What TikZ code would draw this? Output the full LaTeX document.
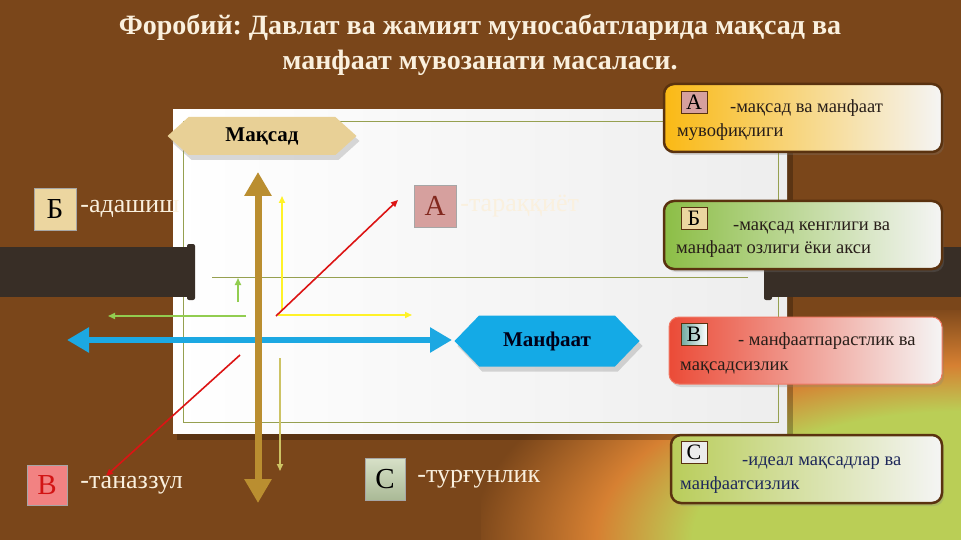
\documentclass[tikz,border=0pt]{standalone}
\usepackage{fontspec}
\setmainfont{Liberation Serif}
\frenchspacing
\usetikzlibrary{arrows.meta,shapes.symbols,shadows,positioning}
\definecolor{bgbrown}{RGB}{122,70,26}
\definecolor{bgorange}{RGB}{214,128,50}
\definecolor{bggreen}{RGB}{186,206,86}
\definecolor{rodgray}{RGB}{56,46,38}
\definecolor{axtan}{RGB}{186,142,48}
\definecolor{axblue}{RGB}{28,168,226}
\definecolor{hextan}{RGB}{232,208,150}
\definecolor{hexblue}{RGB}{20,170,230}
\definecolor{lineolive}{RGB}{150,160,80}
\definecolor{arrgreen}{RGB}{146,205,80}
\definecolor{arryellow}{RGB}{255,242,40}
\definecolor{arrkhaki}{RGB}{205,195,100}
\definecolor{arrred}{RGB}{220,20,20}
\definecolor{cardedge}{RGB}{90,50,15}
\definecolor{titlecol}{RGB}{250,240,222}
\definecolor{inkdark}{RGB}{40,30,25}
\definecolor{inknavy}{RGB}{30,40,90}
\definecolor{pinkA}{RGB}{214,160,158}
\definecolor{letA}{RGB}{130,40,30}
\definecolor{tanB}{RGB}{236,214,160}
\definecolor{pinkV}{RGB}{242,130,130}
\definecolor{letV}{RGB}{210,20,20}
\definecolor{sageC}{RGB}{215,225,200}
\definecolor{sageCdark}{RGB}{170,185,150}
\definecolor{cardorange}{RGB}{250,185,20}
\definecolor{cardgreen}{RGB}{140,190,70}
\definecolor{cardred}{RGB}{235,75,55}
\definecolor{cardredge}{RGB}{240,120,100}
\definecolor{cardlime}{RGB}{185,205,90}
\definecolor{tealV}{RGB}{110,170,160}
\pgfdeclareradialshading{cornerglow}{\pgfpoint{0bp}{0bp}}{color(0bp)=(bggreen); color(14bp)=(bggreen); color(19bp)=(bgorange); color(25.5bp)=(bgbrown); color(50bp)=(bgbrown)}

\begin{document}
\begin{tikzpicture}[x=1pt, y=-1pt,
    lblbox/.style={draw=gray!70, minimum width=42pt, minimum height=42pt, inner sep=0pt, font=\fontsize{29}{29}\selectfont},
    lbltext/.style={text=titlecol, inner sep=0pt, anchor=west, font=\fontsize{26}{26}\selectfont},
    hexnode/.style={signal, signal to=east and west, inner sep=0pt, font=\bfseries\fontsize{21}{21}\selectfont, drop shadow={opacity=0.3, shadow xshift=3pt, shadow yshift=-5pt}},
    card/.style={draw=cardedge, line width=2.5pt, rounded corners=10pt, minimum width=278pt, minimum height=68pt, drop shadow={opacity=0.25, shadow xshift=2pt, shadow yshift=-3pt}},
    cardfill/.style={left color=#1, middle color=white, right color=gray!8},
    cardlbl/.style={draw=cardedge, line width=0.8pt, minimum width=26pt, minimum height=22pt, inner sep=0pt, font=\fontsize{22}{22}\selectfont},
    cardtxt/.style={anchor=base west, inner sep=0pt, text=inkdark, font=\fontsize{18.5}{18.5}\selectfont},
    maqsadarr/.style={{Triangle[width=26pt,length=24pt]}-{Triangle[width=26pt,length=24pt]}, line width=7pt, axtan},
    manfaatarr/.style={{Triangle[width=24pt,length=22pt]}-{Triangle[width=24pt,length=22pt]}, line width=6pt, axblue},
    thinarr/.style={-{Triangle[width=6pt,length=7pt]}, line width=1.6pt}
  ]
    \useasboundingbox (0,0) rectangle (961,540);
    % background
    \begin{scope}
      \clip (0,0) rectangle (961,540);
      \fill[bgbrown] (0,0) rectangle (961,540);
      \path[shading=cornerglow] (481,310) rectangle (1441,770);
    \end{scope}
    \node[text=titlecol, align=center, font=\bfseries\fontsize{28}{35}\selectfont] (title) at (480,45)
      {Форобий: Давлат ва жамият муносабатларида мақсад ва\\манфаат мувозанати масаласи.};

    % board
    \fill[black, opacity=0.25] (177,116) rectangle (793,440);
    \path[left color=white, right color=gray!14] (173,110) rectangle (787,433);
    \draw[lineolive, line width=0.8pt] (183,121) rectangle (778,422);
    \draw[lineolive, line width=0.8pt] (212,277) -- (748,277);

    % rods
    \fill[rodgray] (0,247) rectangle (191,297);
    \fill[rodgray, rounded corners=2pt] (187,244) rectangle (195,300);
    \fill[rodgray] (768,247) rectangle (961,297);
    \fill[rodgray, rounded corners=2pt] (764,244) rectangle (772,300);

    % small arrows
    \coordinate (yel0) at (282,311);
    \coordinate (yelup) at (282,196);
    \coordinate (yel1) at (278,315);
    \coordinate (yelright) at (412,315);
    \draw[thinarr, arryellow] (yel0) -- (yelup);
    \draw[thinarr, arryellow] (yel1) -- (yelright);
    \coordinate (grn0) at (238,302);
    \coordinate (grnup) at (238,278);
    \coordinate (grn1) at (246,316);
    \coordinate (grnleft) at (108,316);
    \draw[thinarr, arrgreen] (grn0) -- (grnup);
    \draw[thinarr, arrgreen] (grn1) -- (grnleft);
    \coordinate (khk0) at (280,358);
    \coordinate (khkdown) at (280,471);
    \draw[thinarr, arrkhaki] (khk0) -- (khkdown);
    \coordinate (red0) at (276,316);
    \coordinate (redA) at (398,200);
    \coordinate (red1) at (240,355);
    \coordinate (redV) at (106,476);
    \draw[thinarr, arrred] (red0) -- (redA);
    \draw[thinarr, arrred] (red1) -- (redV);

    % axes
    \coordinate (mleft) at (67,340);
    \coordinate (mright) at (452,340);
    \draw[manfaatarr] (mleft) -- (mright);
    \coordinate (mtop) at (258,172);
    \coordinate (mbot) at (258,503);
    \draw[maqsadarr] (mtop) -- (mbot);

    \node[hexnode, fill=hextan, text=black, minimum width=189pt, minimum height=38pt, signal pointer angle=84] (maqsad) at (262,136) {Мақсад};
    \node[hexnode, fill=hexblue, text=black!90!blue, minimum width=185pt, minimum height=51pt, signal pointer angle=92] (manfaat) at (547,341) {Манфаат};

    % quadrant labels
    \node[lblbox, fill=pinkA, text=letA] (boxA) at (435,206) {А};
    \node[lbltext, right=4pt of boxA] (txtA) {-тараққиёт};
    \node[lblbox, fill=tanB, text=black] (boxB) at (55,209) {Б};
    \node[lbltext, right=4pt of boxB] (txtB) {-адашиш};
    \node[lblbox, fill=pinkV, text=letV, minimum width=40pt, minimum height=40pt] (boxV) at (47,485) {В};
    \node[lbltext, right=13pt of boxV] (txtV) {-таназзул};
    \node[lblbox, top color=sageC, bottom color=sageCdark, text=black, minimum width=40pt, minimum height=42pt] (boxC) at (385,479) {С};
    \node[lbltext, right=12pt of boxC] (txtC) {-турғунлик};

    % legend cards
    \node[card, cardfill=cardorange] (cardA) at (803,118) {};
    \node[cardlbl, fill=pinkA] (clA) at (694,102) {А};
    \node[cardtxt] (ctA1) at (730,113) {-мақсад ва манфаат};
    \node[cardtxt] (ctA2) at (677,137) {мувофиқлиги};

    \node[card, cardfill=cardgreen] (cardB) at (803,235) {};
    \node[cardlbl, fill=tanB] (clB) at (694,218) {Б};
    \node[cardtxt] (ctB1) at (733,230) {-мақсад кенглиги ва};
    \node[cardtxt] (ctB2) at (676,254) {манфаат озлиги ёки акси};

    \node[card, draw=cardredge, line width=1pt, minimum width=273pt, minimum height=67pt, cardfill=cardred] (cardV) at (805.5,350.5) {};
    \node[cardlbl, left color=tealV, right color=white] (clV) at (694,334) {В};
    \node[cardtxt] (ctV1) at (738,345) {- манфаатпарастлик ва};
    \node[cardtxt] (ctV2) at (680,370) {мақсадсизлик};

    \node[card, minimum width=271pt, cardfill=cardlime] (cardC) at (806.5,469) {};
    \node[cardlbl, fill=gray!15] (clC) at (694,452) {С};
    \node[cardtxt, text=inknavy] (ctC1) at (742,465) {-идеал мақсадлар ва};
    \node[cardtxt, text=inknavy] (ctC2) at (680,489) {манфаатсизлик};
  \end{tikzpicture}
\end{document}
